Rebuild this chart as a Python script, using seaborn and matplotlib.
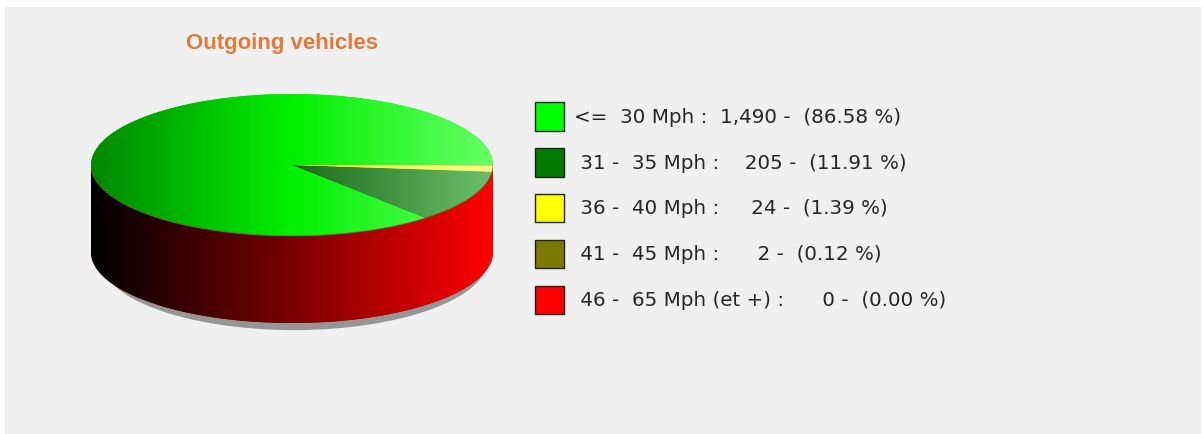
import numpy as np
import matplotlib
matplotlib.use("Agg")
import matplotlib.pyplot as plt
from matplotlib.patches import Rectangle, Ellipse, Patch
import seaborn as sns

# Donnees du graphique
categories = ["<=  30 Mph", " 31 -  35 Mph", " 36 -  40 Mph", " 41 -  45 Mph", " 46 -  65 Mph (et +)"]
counts = [1490, 205, 24, 2, 0]
colors = ["#00ff00", "#007a00", "#ffff00", "#7a7a00", "#ff0000"]
title = "Outgoing vehicles"

sns.set_style("white")

total = sum(counts)
labels = [f"{c} :  {n:>5,} -  ({n / total * 100:.2f} %)" for c, n in zip(categories, counts)]

W, H = 1203, 434
fig = plt.figure(figsize=(W / 100, H / 100), dpi=100)
fig.patch.set_facecolor("white")
fig.patches.append(Rectangle((5 / W, 0), 1196 / W, 427 / H, transform=fig.transFigure,
                             facecolor="#f0f0f0", edgecolor="none", zorder=-10))

# Axe du camembert (ellipse aplatie)
ry = 71.0          # rayon vertical en pixels
depth = 87 / ry    # epaisseur du cylindre
y_top, y_bot, cy = 90, 340, 165
ax = fig.add_axes([91 / W, 1 - y_bot / H, 402 / W, (y_bot - y_top) / H])
ax.set_facecolor("none")

wedges, _ = ax.pie(counts, colors=colors, startangle=0, counterclock=True, radius=1,
                   wedgeprops=dict(linewidth=0, zorder=3))
ax.set_aspect("auto")
ax.axis("off")

# Ombre sous le cylindre
ax.add_patch(Ellipse((0.01, -depth - 0.1), 1.93, 2.0, facecolor="#8c8c8c", edgecolor="none",
                     alpha=0.9, zorder=0.5))

# Cote du cylindre avec degrade noir -> rouge
t = np.linspace(np.pi, 2 * np.pi, 200)
xs = np.concatenate([np.cos(t), np.cos(t[::-1])])
ys = np.concatenate([np.sin(t), np.sin(t[::-1]) - depth])
side = ax.fill(xs, ys, facecolor="#800000", linewidth=0, zorder=1)[0]
grad = np.linspace(0, 1, 256).reshape(1, -1)
side_cmap = sns.blend_palette(["#000000", "#7a0000", "#ff0000"], as_cmap=True)
im = ax.imshow(grad, cmap=side_cmap, extent=(-1, 1, -depth - 1.1, 0.1), aspect="auto",
               origin="lower", zorder=1.5)
im.set_clip_path(side)
ax.plot(np.cos(t), np.sin(t), color="#7a4a00", lw=0.8, alpha=0.6, zorder=3.5)

# Degrades sur les parts du dessus
top_cmaps = {
    0: (sns.blend_palette(["#008800", "#00f000", "#66ff66"], as_cmap=True), (-1, 1)),
    1: (sns.blend_palette(["#1a6a1a", "#6cc06c"], as_cmap=True), (0, 1)),
    2: (sns.blend_palette(["#e8e840", "#ffff80"], as_cmap=True), (0, 1)),
}
for i, (cmap, (x0, x1)) in top_cmaps.items():
    img = ax.imshow(grad, cmap=cmap, extent=(x0, x1, -1.1, 1.1), aspect="auto",
                    origin="lower", zorder=3.2)
    img.set_clip_path(wedges[i])

ax.set_xlim(-1, 1)
ax.set_ylim(-(y_bot - cy) / ry, (cy - y_top) / ry)

# Titre
fig.text(282 / W, 1 - 43 / H, title, ha="center", va="center", fontsize=16,
         fontweight="bold", color="#e07b39", family="Liberation Sans")

# Legende
handles = [Patch(facecolor=c, edgecolor="#222222", linewidth=1) for c in colors]
fig.legend(handles, labels, loc="upper left", bbox_to_anchor=(535 / W, 1 - 102 / H),
           bbox_transform=fig.transFigure, frameon=False,
           handlelength=1.44, handleheight=1.84, handletextpad=0.5,
           labelspacing=0.87, borderpad=0, borderaxespad=0,
           prop=dict(family="DejaVu Sans", size=14.3))

fig.savefig("out.png", dpi=100, facecolor=fig.get_facecolor())
